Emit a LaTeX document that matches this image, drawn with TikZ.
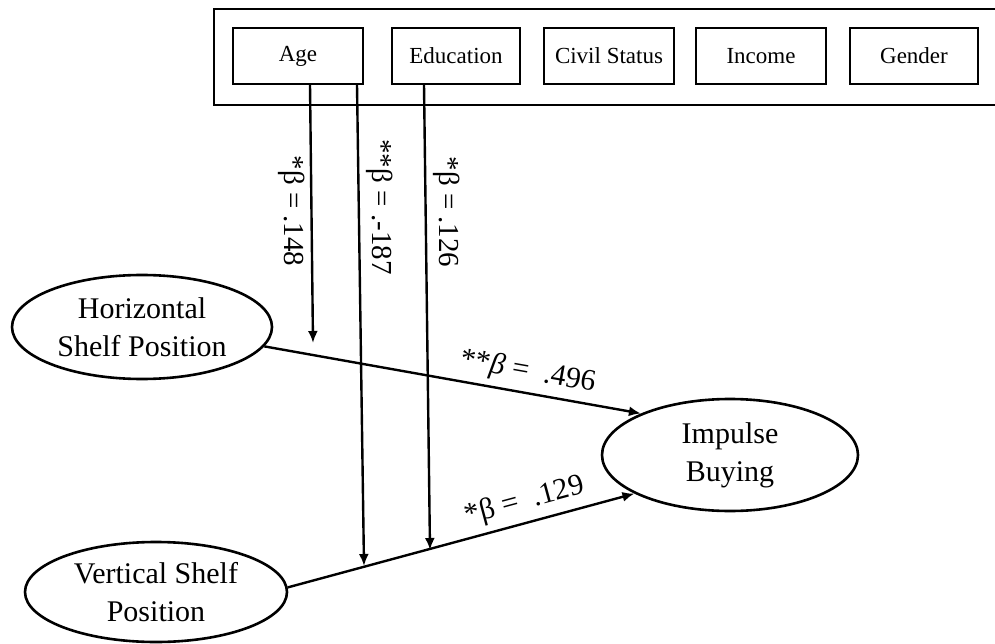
\documentclass[tikz,border=0pt]{standalone}
\usepackage{fontspec}
\setmainfont{Liberation Serif}
\usetikzlibrary{arrows.meta,shapes.geometric}
\begin{document}
\begin{tikzpicture}[x=1pt,y=-1pt,
  box/.style={draw, line width=1.6pt, minimum width=130pt, minimum height=56pt, inner sep=0pt, font=\fontsize{23}{27}\selectfont},
  var/.style={draw, ellipse, line width=2.6pt, inner sep=0pt, align=center, font=\fontsize{30}{38}\selectfont},
  link/.style={line width=2.4pt, -{Latex[length=12pt,width=10pt]}},
  coef/.style={font=\fontsize{29}{32}\selectfont, inner sep=0pt},
  dcoef/.style={font=\fontsize{30}{32}\selectfont, inner sep=0pt},
]
\useasboundingbox (0,0) rectangle (995,644);
\fill[white] (0,0) rectangle (995,644);
% control variables frame
\node[draw, line width=1.6pt, minimum width=800pt, minimum height=96pt, anchor=north west, inner sep=0pt] (ctrl) at (213,8) {};
\node[box] (age) at (298,56) {Age};
\node[box, minimum width=128pt] (edu) at (456,56) {Education};
\node[box] (civ) at (609,56) {Civil Status};
\node[box] (inc) at (761,56) {Income};
\node[box, minimum width=128pt] (gen) at (914,56) {Gender};
% latent variables
\node[var, minimum width=260pt, minimum height=104pt] (hor) at (142,327) {Horizontal\\Shelf Position};
\node[var, minimum width=262pt, minimum height=100pt] (ver) at (156,592) {Vertical Shelf\\Position};
\node[var, minimum width=256pt, minimum height=112pt] (imp) at (730,455) {Impulse\\Buying};
% main paths
\draw[link] (hor.-9) -- (imp.155) node[dcoef, pos=0.69, above=6pt, sloped] {**\textit{β} = \ .496};
\draw[link] (ver.2) -- (imp.202) node[dcoef, pos=0.70, above=6pt, sloped] {*β = \ .129};
% moderating controls
\coordinate (t1) at (313,343);
\coordinate (t2) at (364,566);
\coordinate (t3) at (430,550);
\draw[link] ([xshift=12pt]age.south) -- (t1);
\draw[link] ([xshift=59pt]age.south) -- (t2);
\draw[link] ([xshift=-32pt]edu.south) -- (t3);
\node[coef, rotate=-90] (l1) at (292,211) {*β = .148};
\node[coef, rotate=-90] (l2) at (380,207) {**β = .-187};
\node[coef, rotate=-90] (l3) at (447,212) {*β = .126};
\end{tikzpicture}
\end{document}
